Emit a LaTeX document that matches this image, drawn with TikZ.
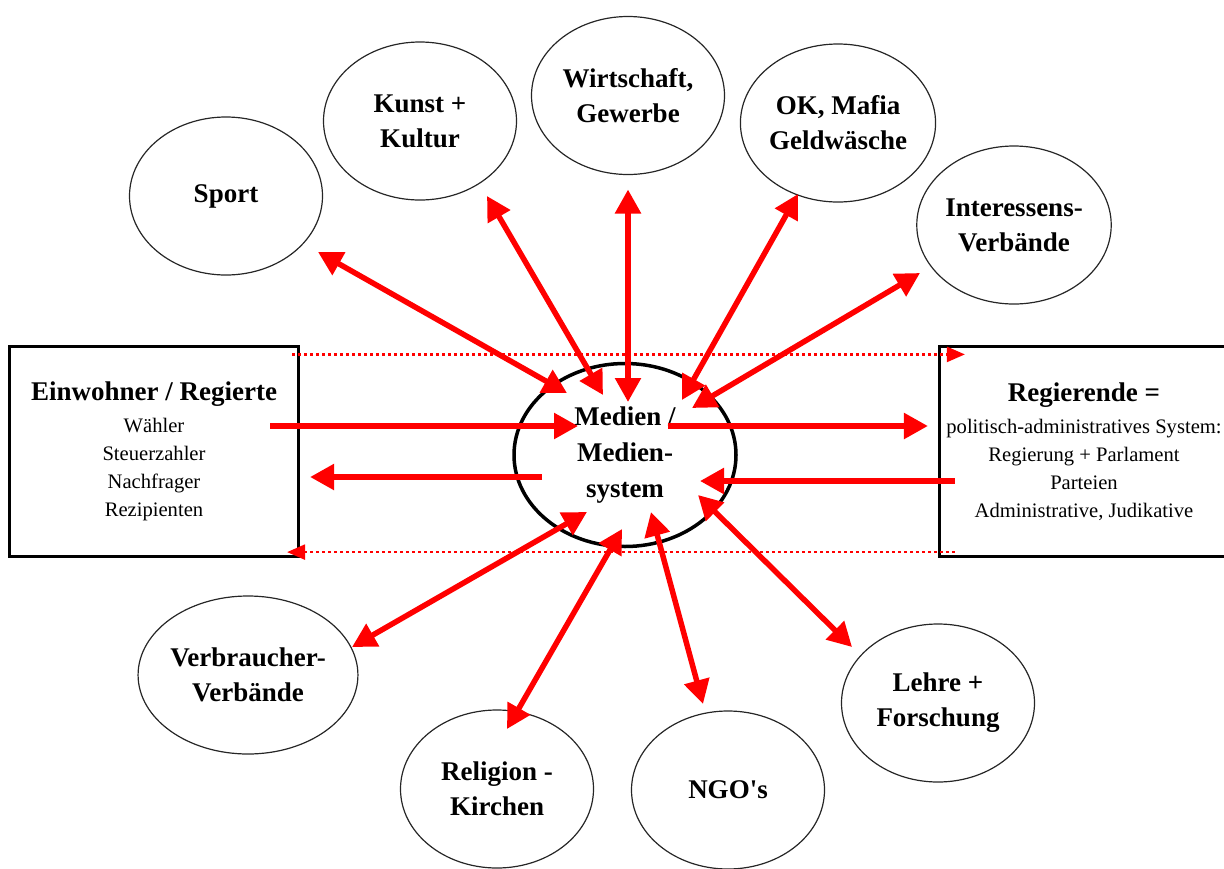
\documentclass[tikz,border=0pt]{standalone}
\usepackage{fontspec}
\setmainfont{Liberation Serif}[Ligatures=TeXOff]
\usepackage{xcolor}
\usepackage{tikz}
\usetikzlibrary{shapes.geometric, arrows.meta, calc}

\newcommand{\titel}[1]{{\fontsize{27}{28}\selectfont\bfseries #1}}

\tikzset{
  feld/.style={ellipse, draw=black!85, line width=1.2pt, minimum width=193pt, minimum height=158pt,
    inner sep=0pt, align=center, font=\fontsize{27}{35}\selectfont\bfseries},
  kern/.style={ellipse, draw=black, line width=3.5pt, minimum width=222pt, minimum height=183pt,
    inner sep=0pt, align=center, font=\fontsize{27}{36}\selectfont\bfseries},
  block/.style={rectangle, draw=black, line width=3.2pt, minimum width=289pt, minimum height=210pt,
    inner sep=0pt, align=center, font=\fontsize{20.6}{28}\selectfont},
  link/.style={draw=red, line width=5.5pt, {Triangle[length=24pt,width=25pt]}-{Triangle[length=24pt,width=25pt]}},
  oneway/.style={draw=red, line width=5.5pt, -{Triangle[length=24pt,width=25pt]}},
  hint/.style={draw=red, line width=2.5pt, dash pattern=on 3pt off 3pt, -{Triangle[length=18pt,width=15pt]}}
}

\begin{document}
\begin{tikzpicture}[x=1pt, y=-1pt]
    \useasboundingbox (0,0) rectangle (1224,868);

    % the two sides
    \node[block] (einwohner) at (154,451.5) {\titel{Einwohner / Regierte}\\[4pt]
        Wähler\\ Steuerzahler\\ Nachfrager\\ Rezipienten};
    \node[block] (regierende) at (1084,451.5) {\titel{Regierende =}\\[4pt]
        politisch-administratives System:\\ Regierung + Parlament\\ Parteien\\ Administrative, Judikative};

    % media in the middle
    \node[kern] (medien) at (625,455) {Medien /\\Medien-\\system};

    % fields around it
    \node[feld] (sport) at (226,196) {Sport};
    \node[feld] (kunst) at (420,121) {Kunst +\\Kultur};
    \node[feld] (wirtschaft) at (628,95.5) {Wirtschaft,\\Gewerbe};
    \node[feld] (mafia) at (838,123) {OK, Mafia\\Geldwäsche};
    \node[feld] (interessen) at (1014,225) {Interessens-\\Verbände};
    \node[feld] (verbraucher) at (248,675) {Verbraucher-\\Verbände};
    \node[feld] (religion) at (497,789) {Religion -\\Kirchen};
    \node[feld] (ngo) at (728,790) {NGO's};
    \node[feld] (lehre) at (938,703) {Lehre +\\Forschung};

    \draw[hint] ($(einwohner.north east)+(-8,9.5)$) -- ($(regierende.north west)+(27,9.5)$);
    \draw[hint] ($(regierende.south west)+(17,-6)$) -- ($(einwohner.south east)+(-13,-6)$);

    \draw[oneway] ($(einwohner.east)+(-30,-25.5)$) -- ($(medien)+(-47,-29)$);
    \draw[oneway] ($(medien)+(43,-29)$) -- ($(regierende.west)+(-10,-25.5)$);
    \draw[oneway] ($(regierende.west)+(17,29.5)$) -- ($(medien)+(75,26)$);
    \draw[oneway] ($(medien)+(-83,22)$) -- ($(einwohner.east)+(10,25.5)$);

    \draw[link] ($(sport)+(92,56)$) -- ($(medien)+(-58,-62)$);
    \draw[link] ($(kunst)+(67,75)$) -- ($(medien)+(-22,-60)$);
    \draw[link] ($(wirtschaft)+(0,94)$) -- ($(medien)+(3,-53)$);
    \draw[link] ($(mafia)+(-40,71)$) -- ($(medien)+(57,-55)$);
    \draw[link] ($(interessen)+(-94,48)$) -- ($(medien)+(67,-47)$);
    \draw[link] ($(verbraucher)+(104,-28)$) -- ($(medien)+(-38,57)$);
    \draw[link] ($(religion)+(10,-60)$) -- ($(medien)+(-3,74)$);
    \draw[link] ($(ngo)+(-25,-86)$) -- ($(medien)+(26,57)$);
    \draw[link] ($(lehre)+(-86,-56)$) -- ($(medien)+(73,40)$);
\end{tikzpicture}
\end{document}
